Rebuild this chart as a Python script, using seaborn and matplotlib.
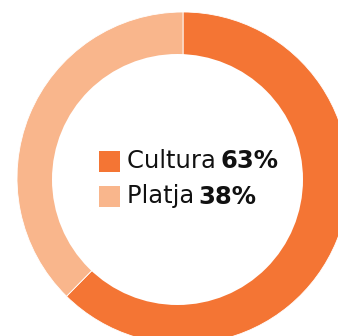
import matplotlib
matplotlib.use("Agg")
import matplotlib.pyplot as plt
from matplotlib.patches import Circle, Rectangle
import seaborn as sns

# Share of visitors by type of tourism
categories = ["Cultura", "Platja"]
values = [63, 38]
labels = ["63%", "38%"]
colors = ["#F47534", "#F9B68C"]

sns.set_theme(style="white")
plt.rcParams["font.family"] = ["DejaVu Sans"]

W, H = 338, 336
fig = plt.figure(figsize=(W / 100, H / 100), dpi=100)
ax = fig.add_axes([0, 0, 1, 1])

ax.pie(values, colors=colors, startangle=90, counterclock=False,
       center=(183, H - 178), radius=166,
       wedgeprops=dict(linewidth=0.6, edgecolor="white"))

ax.set_xlim(0, W)
ax.set_ylim(0, H)
ax.set_aspect("equal")
ax.axis("off")

# white centre of the ring
ax.add_patch(Circle((177.5, H - 179.5), 125.5, facecolor="white",
                    edgecolor="none", zorder=5))

# legend inside the ring
for i, (cat, lab, col) in enumerate(zip(categories, labels, colors)):
    y = H - 161.5 - i * 35
    ax.add_patch(Rectangle((99, y - 10.5), 21, 21, facecolor=col,
                           edgecolor="none", zorder=6))
    t = ax.text(127, y, cat + " ", fontsize=17.5, color="#111111",
                va="center", ha="left", zorder=7)
    ax.annotate(lab, xy=(1, 0.5), xycoords=t, xytext=(-2.5, 0),
                textcoords="offset points", fontsize=17.5,
                fontweight="bold", color="#111111", va="center",
                ha="left", zorder=7)

fig.savefig("out.png", dpi=100)
